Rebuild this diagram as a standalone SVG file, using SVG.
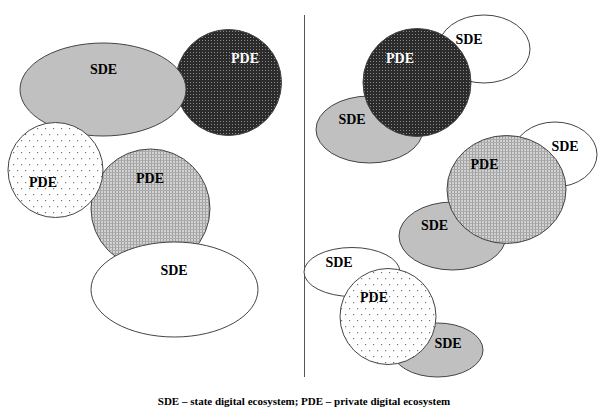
<svg xmlns="http://www.w3.org/2000/svg" width="598" height="407" viewBox="0 0 598 407">
<defs>
<pattern id="dark" width="3" height="3" patternUnits="userSpaceOnUse">
<rect width="3" height="3" fill="#2b2b2b"/>
<rect x="1" y="1" width="1" height="1" fill="#8a8a8a"/>
</pattern>
<pattern id="mid" width="3" height="3" patternUnits="userSpaceOnUse">
<rect width="3" height="3" fill="#d2d2d2"/>
<rect x="1" y="0" width="1" height="3" fill="#a0a0a0"/>
<rect x="0" y="1" width="3" height="1" fill="#ababab"/>
</pattern>
<pattern id="dots" width="8" height="12" patternUnits="userSpaceOnUse">
<rect width="8" height="12" fill="#ffffff"/>
<rect x="1" y="2" width="1.2" height="1.2" fill="#777"/>
<rect x="5" y="8" width="1.2" height="1.2" fill="#777"/>
</pattern>
</defs>
<style>
.e{stroke:#444;stroke-width:1}
.gray{fill:#c0c0c0}
.white{fill:#ffffff}
.dk{fill:url(#dark)}
.md{fill:url(#mid)}
.dt{fill:url(#dots)}
text{font-family:"Liberation Serif","Times New Roman",serif;font-weight:bold;font-size:14px;text-anchor:middle}
.wt{fill:#ffffff}
.cap{font-size:11px}
</style>
<g id="left-pde-dark"><circle class="e dk" cx="228.5" cy="82.5" r="53"/><text class="wt" x="245" y="63">PDE</text></g>
<g id="left-sde-gray"><ellipse class="e gray" cx="103" cy="89.5" rx="83" ry="46.5"/><text x="103.5" y="74">SDE</text></g>
<g id="left-pde-mid"><circle class="e md" cx="150.5" cy="208.5" r="59.5"/><text x="150" y="183">PDE</text></g>
<g id="left-pde-dots"><circle class="e dt" cx="55.5" cy="170" r="47.5"/><text x="43" y="187">PDE</text></g>
<g id="left-sde-white"><ellipse class="e white" cx="174.5" cy="289.5" rx="83.5" ry="47.5"/><text x="174" y="275">SDE</text></g>
<g id="connectors"><line x1="304.5" y1="15" x2="304.5" y2="377" stroke="#555" stroke-width="1"/></g>
<g id="right-sde-white-top"><ellipse class="e white" cx="484" cy="49" rx="46" ry="34"/><text x="469" y="44">SDE</text></g>
<g id="right-sde-gray-top"><ellipse class="e gray" cx="369.5" cy="129.5" rx="53.5" ry="33.5"/><text x="352" y="124">SDE</text></g>
<g id="right-pde-dark"><circle class="e dk" cx="417" cy="82.5" r="54"/><text class="wt" x="400" y="63">PDE</text></g>
<g id="right-sde-white-mid"><ellipse class="e white" cx="555" cy="154.5" rx="42" ry="32.5"/><text x="565" y="151">SDE</text></g>
<g id="right-sde-gray-mid"><ellipse class="e gray" cx="452.5" cy="236" rx="53.5" ry="34"/><text x="434.5" y="230">SDE</text></g>
<g id="right-pde-mid"><ellipse class="e md" cx="506.5" cy="189.5" rx="59.5" ry="54"/><text x="484.5" y="169">PDE</text></g>
<g id="right-sde-white-low"><ellipse class="e white" cx="352" cy="272" rx="48" ry="24.5"/><text x="339" y="267">SDE</text></g>
<g id="right-sde-gray-low"><ellipse class="e gray" cx="437.5" cy="350" rx="45.5" ry="27"/><text x="448" y="348">SDE</text></g>
<g id="right-pde-dots"><circle class="e dt" cx="388" cy="316.5" r="48"/><text x="374" y="302">PDE</text></g>
<text class="cap" x="304" y="405">SDE – state digital ecosystem; PDE – private digital ecosystem</text>
</svg>
